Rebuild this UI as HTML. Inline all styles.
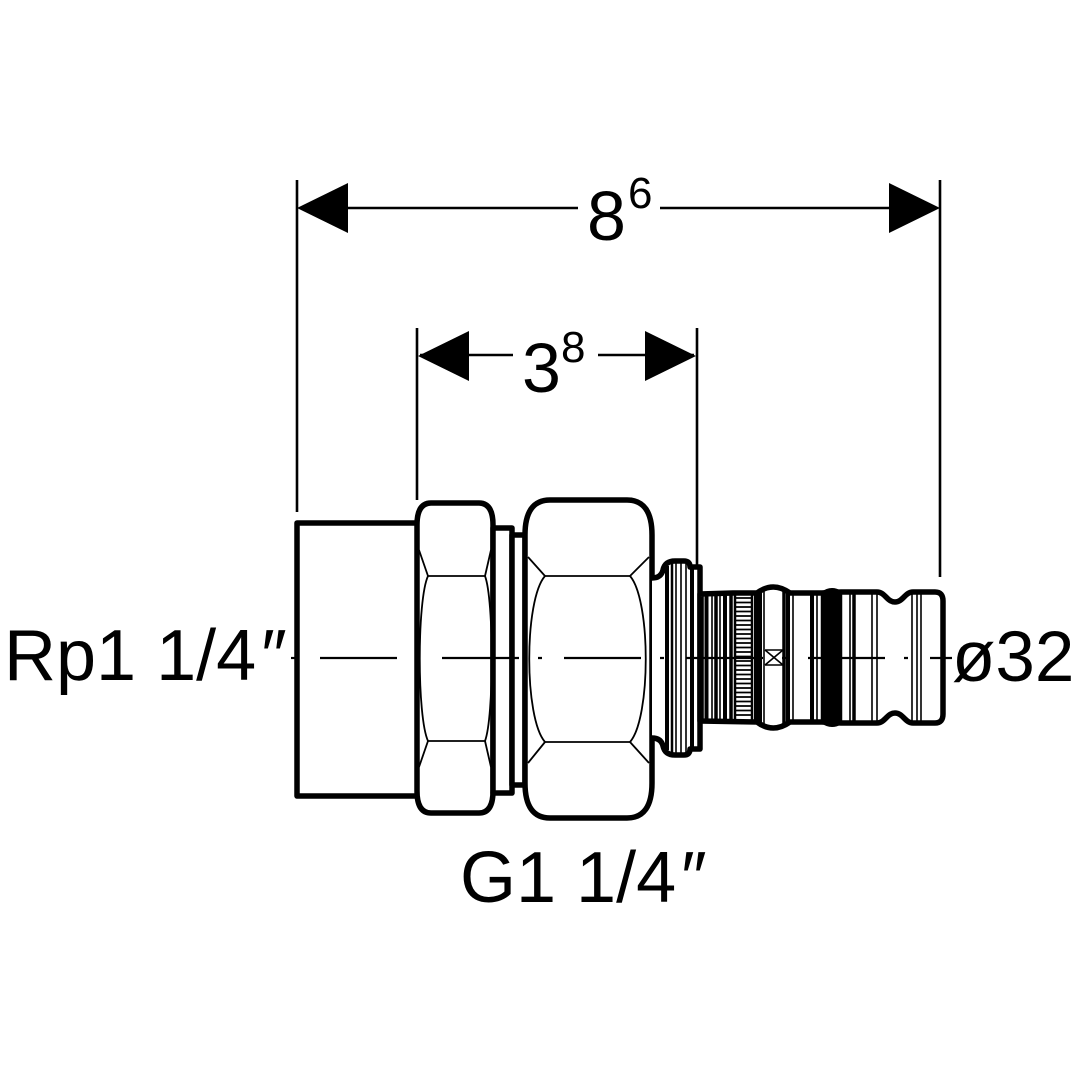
<!DOCTYPE html>
<html><head><meta charset="utf-8"><style>
html,body{margin:0;padding:0;background:#fff;}
svg{display:block;}
text{font-family:"Liberation Sans",Arial,sans-serif;fill:#000;}
</style></head><body>
<svg width="1080" height="1080" viewBox="0 0 1080 1080" xmlns="http://www.w3.org/2000/svg">
<rect width="1080" height="1080" fill="#fff"/>

<!-- dimensions -->
<g stroke="#000" stroke-width="2.6" fill="none">
  <line x1="297" y1="180" x2="297" y2="512"/>
  <line x1="940" y1="180" x2="940" y2="577"/>
  <line x1="300" y1="208" x2="578" y2="208"/>
  <line x1="660" y1="208" x2="937" y2="208"/>
  <line x1="417" y1="328" x2="417" y2="500"/>
  <line x1="697" y1="328" x2="697" y2="565"/>
  <line x1="420" y1="355" x2="513" y2="355"/>
  <line x1="598" y1="355" x2="694" y2="355"/>
</g>
<polygon points="297,208 348,183 348,233" fill="#000"/>
<polygon points="940,208 889,183 889,233" fill="#000"/>
<polygon points="418,356 469,331 469,381" fill="#000"/>
<polygon points="696,356 645,331 645,381" fill="#000"/>
<text x="587" y="240" font-size="70">8</text>
<text x="628" y="208" font-size="44">6</text>
<text x="522" y="392" font-size="70">3</text>
<text x="561" y="362" font-size="44">8</text>

<!-- body -->
<g stroke="#000" stroke-width="5.5" fill="#fff" stroke-linejoin="round">
  <path d="M417,523 L297,523 L297,796 L417,796"/>
  <path d="M431,503 L479,503 Q493,503 493,525 L493,791 Q493,813 479,813 L431,813 Q417,813 417,791 L417,525 Q417,503 431,503 Z"/>
  <rect x="493" y="528" width="19" height="265"/>
  <rect x="512" y="535" width="13" height="250"/>
  <path d="M550,500 L627,500 Q652,500 652,535 L652,783 Q652,818 627,818 L550,818 Q525,818 525,783 L525,535 Q525,500 550,500 Z"/>
  <path d="M652,578 Q661,578 663,570 Q665,561 675,561 L684,561 Q690,561 690,567 L700,567 L700,749 L690,749 Q690,755 684,755 L675,755 Q665,755 663,746 Q661,738 652,738"/>
  <path d="M700,594 L733,593 L757,593 Q773,581 790,593 L822,593 L841,592 L877,592 C885,592 887,602 895,602 C903,602 905,592 913,592 L935,592 Q943,592 943,601 L943,714 Q943,723 935,723 L913,723 C905,723 903,713 895,713 C887,713 885,723 877,723 L841,723 L822,722 L790,722 Q773,734 757,722 L700,721 Z"/>
</g>

<!-- hex nut thin lines -->
<g stroke="#000" stroke-width="1.8" fill="none">
  <line x1="428" y1="576" x2="485" y2="576"/>
  <line x1="428" y1="741" x2="485" y2="741"/>
  <line x1="419" y1="550" x2="428" y2="576"/>
  <line x1="491" y1="550" x2="485" y2="576"/>
  <line x1="428" y1="741" x2="419" y2="767"/>
  <line x1="485" y1="741" x2="491" y2="767"/>
  <path d="M428,576 C417,600 417,717 428,741"/>
  <path d="M485,576 C494,600 494,717 485,741"/>

  <line x1="545" y1="576" x2="630" y2="576"/>
  <line x1="545" y1="742" x2="630" y2="742"/>
  <line x1="528" y1="557" x2="545" y2="576"/>
  <line x1="649" y1="557" x2="630" y2="576"/>
  <line x1="545" y1="742" x2="528" y2="763"/>
  <line x1="630" y1="742" x2="649" y2="763"/>
  <path d="M545,576 C524,600 524,718 545,742"/>
  <path d="M630,576 C651,600 651,718 630,742"/>
</g>

<!-- flange & tail lines -->
<g stroke="#000" fill="none">
  <line x1="667" y1="566" x2="667" y2="750" stroke-width="4"/>
  <line x1="672" y1="562" x2="672" y2="754" stroke-width="2.5"/>
  <line x1="676" y1="562" x2="676" y2="754" stroke-width="1.6"/>
  <line x1="681" y1="562" x2="681" y2="754" stroke-width="1.6"/>
  <line x1="686" y1="562" x2="686" y2="754" stroke-width="1.6"/>
  <line x1="692" y1="567" x2="692" y2="749" stroke-width="4"/>
  <line x1="703" y1="594" x2="703" y2="721" stroke-width="1.6"/>
  <line x1="706.5" y1="594" x2="706.5" y2="721" stroke-width="4"/>
  <line x1="712" y1="594" x2="712" y2="721" stroke-width="1.6"/>
  <line x1="716" y1="594" x2="716" y2="721" stroke-width="3.5"/>
  <line x1="720" y1="594" x2="720" y2="721" stroke-width="1.6"/>
  <line x1="725" y1="594" x2="725" y2="721" stroke-width="4"/>
  <line x1="731" y1="594" x2="731" y2="721" stroke-width="3.5"/>
  <line x1="735" y1="594" x2="735" y2="721" stroke-width="2.5"/>
  <line x1="752" y1="594" x2="752" y2="721" stroke-width="2.5"/>
  <line x1="756" y1="593" x2="756" y2="722" stroke-width="4"/>
  <line x1="760" y1="591" x2="760" y2="724" stroke-width="4"/>
  <line x1="764" y1="589" x2="764" y2="726" stroke-width="1.6"/>
  <line x1="784" y1="589" x2="784" y2="726" stroke-width="3.5"/>
  <line x1="788" y1="591" x2="788" y2="724" stroke-width="4"/>
  <line x1="793" y1="593" x2="793" y2="722" stroke-width="1.6"/>
  <line x1="812" y1="593" x2="812" y2="722" stroke-width="4"/>
  <line x1="817" y1="593" x2="817" y2="722" stroke-width="1.6"/>
  <line x1="850" y1="592" x2="850" y2="723" stroke-width="1.6"/>
  <line x1="854" y1="592" x2="854" y2="723" stroke-width="3.5"/>
  <line x1="872" y1="592" x2="872" y2="723" stroke-width="1.6"/>
  <line x1="877" y1="592" x2="877" y2="723" stroke-width="1.6"/>
  <line x1="912" y1="593" x2="912" y2="722" stroke-width="1.6"/>
  <line x1="917" y1="592" x2="917" y2="723" stroke-width="1.6"/>
  <line x1="921" y1="592" x2="921" y2="723" stroke-width="1.6"/>
  <line x1="765" y1="650" x2="783" y2="650" stroke-width="1.6"/>
  <line x1="765" y1="665" x2="783" y2="665" stroke-width="1.6"/>
  <line x1="765" y1="650" x2="783" y2="665" stroke-width="1.6"/>
  <line x1="783" y1="650" x2="765" y2="665" stroke-width="1.6"/>
</g>
<g stroke="#000" stroke-width="1.7">
  <line x1="735" y1="598" x2="752" y2="598"/>
  <line x1="735" y1="602.5" x2="752" y2="602.5"/>
  <line x1="735" y1="607" x2="752" y2="607"/>
  <line x1="735" y1="611.5" x2="752" y2="611.5"/>
  <line x1="735" y1="616" x2="752" y2="616"/>
  <line x1="735" y1="620.5" x2="752" y2="620.5"/>
  <line x1="735" y1="625" x2="752" y2="625"/>
  <line x1="735" y1="629.5" x2="752" y2="629.5"/>
  <line x1="735" y1="634" x2="752" y2="634"/>
  <line x1="735" y1="638.5" x2="752" y2="638.5"/>
  <line x1="735" y1="643" x2="752" y2="643"/>
  <line x1="735" y1="647.5" x2="752" y2="647.5"/>
  <line x1="735" y1="652" x2="752" y2="652"/>
  <line x1="735" y1="656.5" x2="752" y2="656.5"/>
  <line x1="735" y1="661" x2="752" y2="661"/>
  <line x1="735" y1="665.5" x2="752" y2="665.5"/>
  <line x1="735" y1="670" x2="752" y2="670"/>
  <line x1="735" y1="674.5" x2="752" y2="674.5"/>
  <line x1="735" y1="679" x2="752" y2="679"/>
  <line x1="735" y1="683.5" x2="752" y2="683.5"/>
  <line x1="735" y1="688" x2="752" y2="688"/>
  <line x1="735" y1="692.5" x2="752" y2="692.5"/>
  <line x1="735" y1="697" x2="752" y2="697"/>
  <line x1="735" y1="701.5" x2="752" y2="701.5"/>
  <line x1="735" y1="706" x2="752" y2="706"/>
  <line x1="735" y1="710.5" x2="752" y2="710.5"/>
  <line x1="735" y1="715" x2="752" y2="715"/>
</g>
<path d="M822,593 Q831,586 841,592 L841,723 Q831,729 822,722 Z" fill="#000" stroke="#000" stroke-width="2.5"/>

<!-- centerline -->
<line x1="291" y1="658" x2="297" y2="658" stroke="#000" stroke-width="2.2"/>
<line x1="320" y1="658" x2="952" y2="658" stroke="#000" stroke-width="2.2" stroke-dasharray="77 19 4 22"/>

<!-- labels -->
<text x="4" y="680" font-size="72">Rp1 1/4<tspan dx="5">″</tspan></text>
<text x="460" y="902" font-size="72">G1 1/4<tspan dx="5">″</tspan></text>
<text x="952" y="681" font-size="71">ø32</text>
</svg>
</body></html>
